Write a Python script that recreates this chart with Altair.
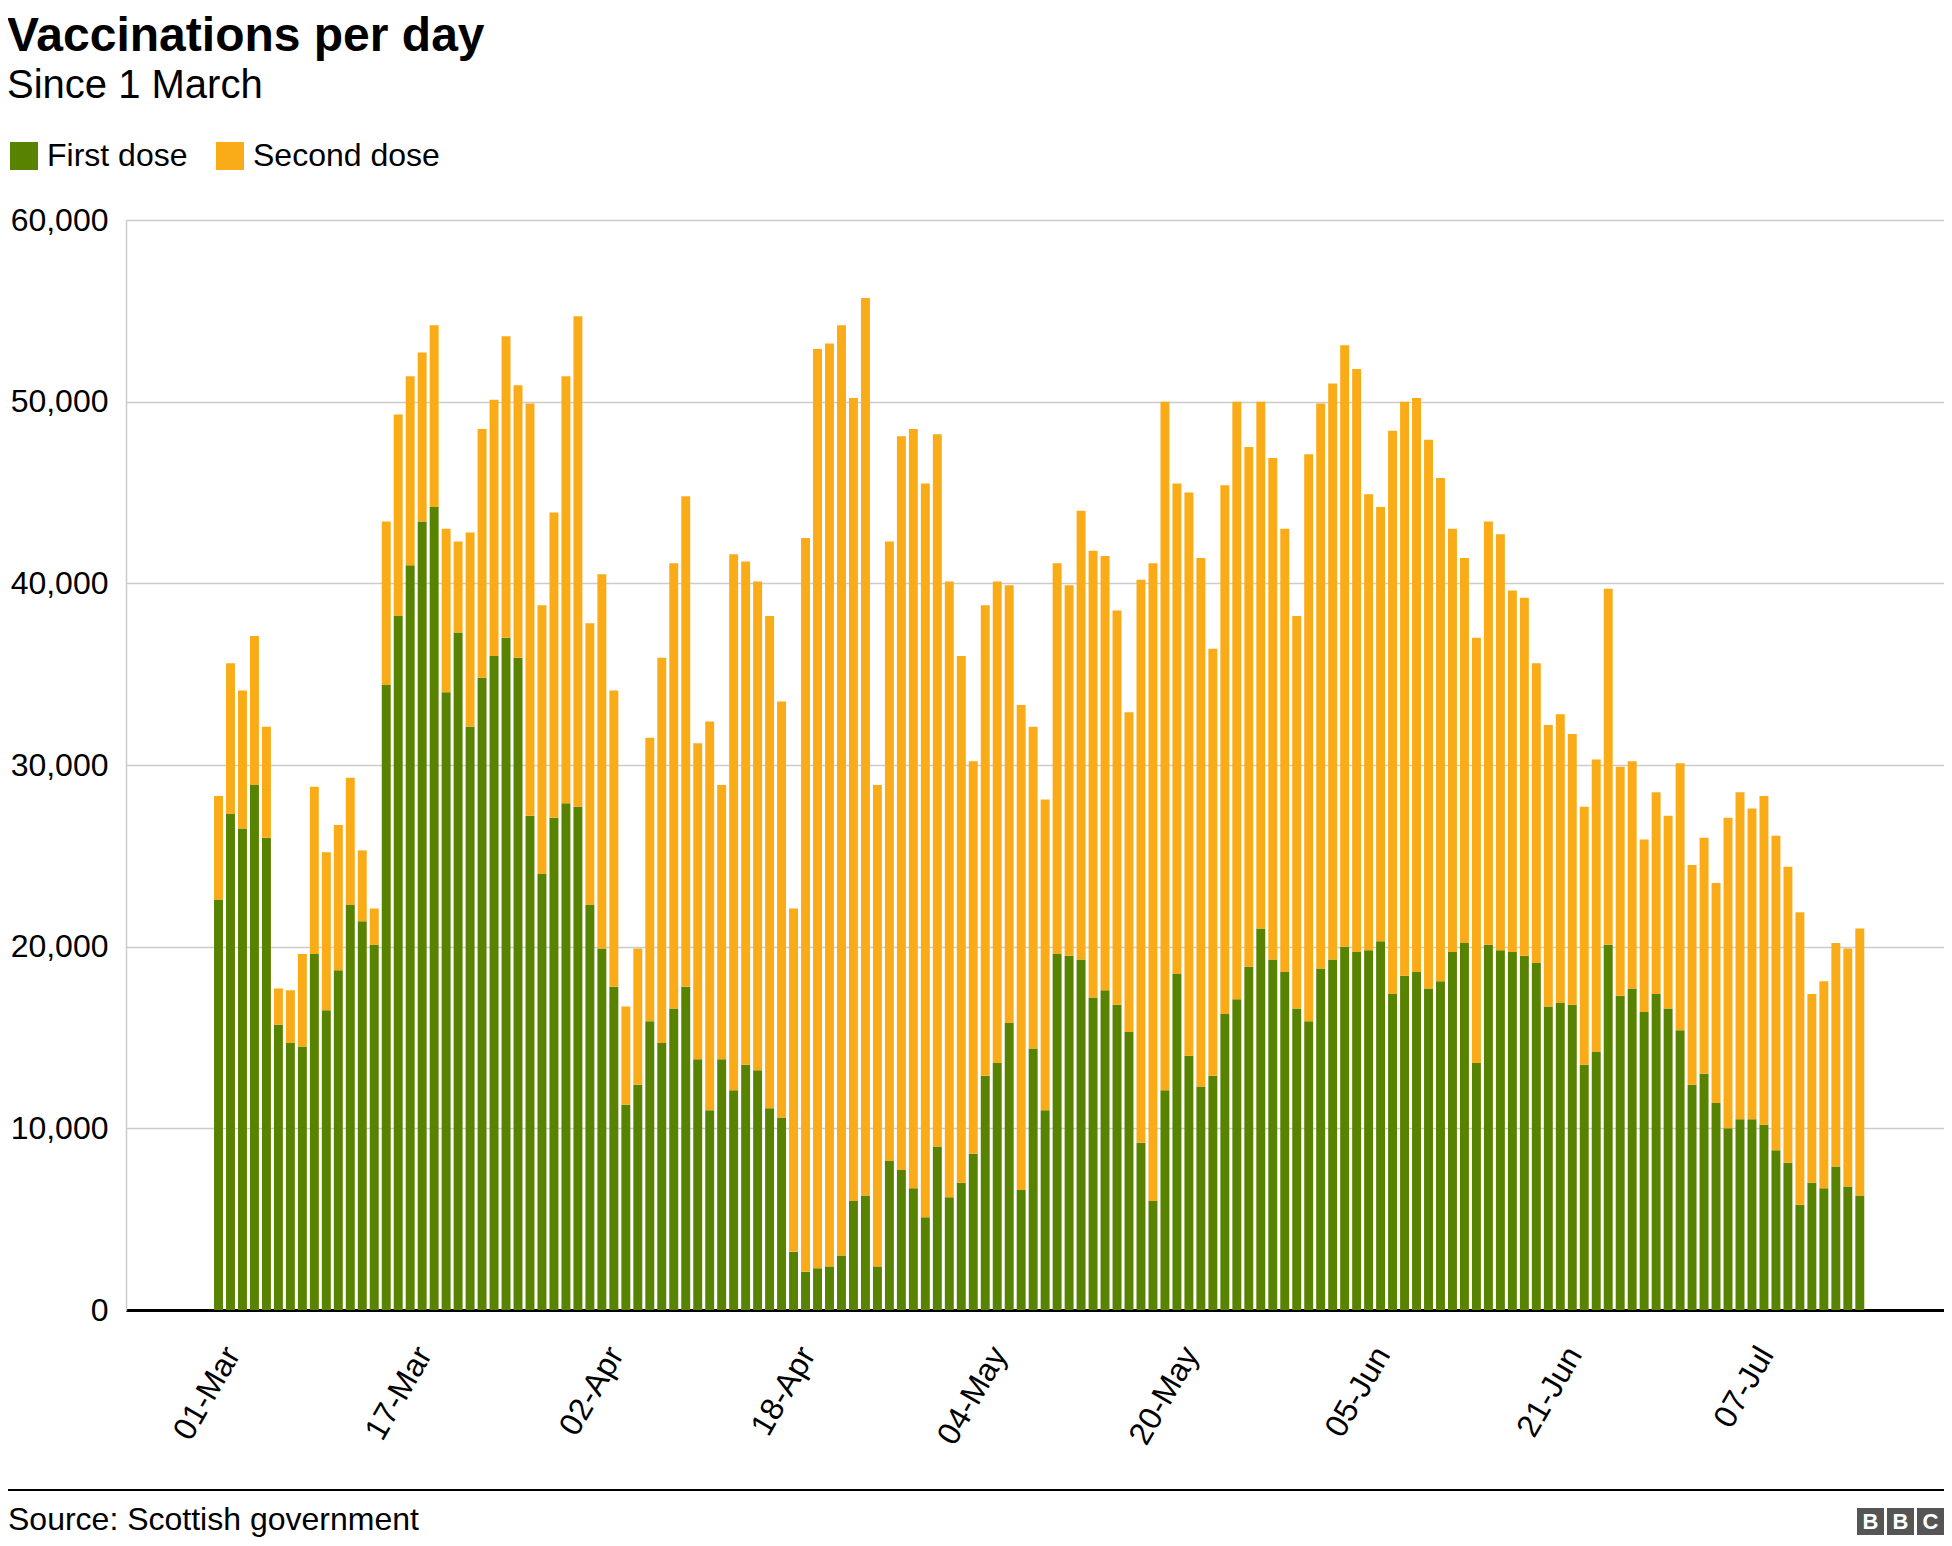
import altair as alt
import pandas as pd

# ---------------- data ----------------
start_date = "2021-03-01"
n_days = 138

first_dose = [
    22600, 27300, 26500, 28900, 26000, 15700, 14700, 14500, 19600, 16500, 18700, 22300, 21400, 20100, 34400, 38200, 41000, 43400,
    44200, 34000, 37300, 32100, 34800, 36000, 37000, 35900, 27200, 24000, 27100, 27900, 27700, 22300, 19900, 17800, 11300, 12400,
    15900, 14700, 16600, 17800, 13800, 11000, 13800, 12100, 13500, 13200, 11100, 10600, 3200, 2100, 2300, 2400, 3000, 6000, 6300,
    2400, 8200, 7700, 6700, 5100, 9000, 6200, 7000, 8600, 12900, 13600, 15800, 6600, 14400, 11000, 19600, 19500, 19300,
    17200, 17600, 16800, 15300, 9200, 6000, 12100, 18500, 14000, 12300, 12900, 16300, 17100, 18900, 21000, 19300, 18600, 16600,
    15900, 18800, 19300, 20000, 19700, 19800, 20300, 17400, 18400, 18600, 17700, 18100, 19700, 20200, 13600, 20100, 19800, 19700, 19500,
    19100, 16700, 16900, 16800, 13500, 14200, 20100, 17300, 17700, 16400, 17400, 16600, 15400, 12400, 13000, 11400, 10000, 10500,
    10500, 10200, 8800, 8100, 5800, 7000, 6700, 7900, 6800, 6300,
]

total_doses = [
    28300, 35600, 34100, 37100, 32100, 17700, 17600, 19600, 28800, 25200, 26700, 29300, 25300, 22100, 43400, 49300, 51400, 52700,
    54200, 43000, 42300, 42800, 48500, 50100, 53600, 50900, 49900, 38800, 43900, 51400, 54700, 37800, 40500, 34100, 16700, 19900,
    31500, 35900, 41100, 44800, 31200, 32400, 28900, 41600, 41200, 40100, 38200, 33500, 22100, 42500, 52900, 53200, 54200, 50200, 55700,
    28900, 42300, 48100, 48500, 45500, 48200, 40100, 36000, 30200, 38800, 40100, 39900, 33300, 32100, 28100, 41100, 39900, 44000,
    41800, 41500, 38500, 32900, 40200, 41100, 50000, 45500, 45000, 41400, 36400, 45400, 50000, 47500, 50000, 46900, 43000, 38200,
    47100, 49900, 51000, 53100, 51800, 44900, 44200, 48400, 50000, 50200, 47900, 45800, 43000, 41400, 37000, 43400, 42700, 39600, 39200,
    35600, 32200, 32800, 31700, 27700, 30300, 39700, 29900, 30200, 25900, 28500, 27200, 30100, 24500, 26000, 23500, 27100, 28500,
    27600, 28300, 26100, 24400, 21900, 17400, 18100, 20200, 19900, 21000,
]

series_names = ["First dose", "Second dose"]
series_colors = ["#588300", "#FAAB18"]
y_ticks = [0, 10000, 20000, 30000, 40000, 50000, 60000]
x_tick_days = [(3, 1), (3, 17), (4, 2), (4, 18), (5, 4), (5, 20), (6, 5), (6, 21), (7, 7)]

# ---------------- table ----------------
dates = pd.date_range(start_date, periods=n_days, freq="D").strftime("%Y-%m-%d")
second_dose = [t - f for t, f in zip(total_doses, first_dose)]
wide = pd.DataFrame({"date": dates, "First dose": first_dose, "Second dose": second_dose})
df = wide.melt(id_vars="date", var_name="dose", value_name="value")
df["order"] = df["dose"].map({n: i for i, n in enumerate(series_names)})

FONT = "Liberation Sans"
W, H = 1818, 1090
DAY = 86400000
t0 = int(pd.Timestamp(start_date, tz="UTC").value // 1_000_000)
dom = [t0 - int(7.18 * DAY), t0 + int(144.57 * DAY)]

bars = alt.Chart(df).mark_bar(width=alt.RelativeBandSize(0.83)).encode(
    x=alt.X(
        "date:T",
        timeUnit="utcyearmonthdate",
        scale=alt.Scale(type="utc", domain=dom),
        axis=alt.Axis(
            title=None,
            values=[alt.DateTime(year=2021, month=m, date=d, hours=12, utc=True) for m, d in x_tick_days],
            labelExpr="utcFormat(datum.value, '%d-%b')",
            labelAngle=-60,
            labelAlign="right",
            labelBaseline="middle",
            labelFont=FONT,
            labelFontSize=32,
            labelColor="#000000",
            labelPadding=39,
            labelOffset=14,
            labelOverlap=False,
            ticks=False,
            grid=False,
            domainColor="#000000",
            domainWidth=3,
        ),
    ),
    y=alt.Y(
        "value:Q",
        stack="zero",
        scale=alt.Scale(domain=[0, 60000], nice=False),
        axis=alt.Axis(
            title=None,
            values=y_ticks,
            format=",d",
            labelFont=FONT,
            labelFontSize=32,
            labelColor="#000000",
            labelPadding=18,
            ticks=False,
            grid=True,
            gridColor="#cccccc",
            gridWidth=1.5,
            domainColor="#cccccc",
            domainWidth=1.5,
        ),
    ),
    color=alt.Color(
        "dose:N",
        scale=alt.Scale(domain=series_names, range=series_colors),
        legend=alt.Legend(
            title=None,
            orient="none",
            legendX=-118,
            legendY=-80,
            direction="horizontal",
            symbolType="square",
            symbolSize=784,
            symbolStrokeWidth=0,
            symbolOpacity=1,
            labelFont=FONT,
            labelFontSize=32,
            labelColor="#000000",
            labelOffset=7,
            labelLimit=0,
            columnPadding=26,
            padding=0,
        ),
    ),
    order=alt.Order("order:Q"),
)

one = alt.Data(values=[{"k": 1}])

footer_rule = alt.Chart(one).mark_rule(color="#000000", strokeWidth=2).encode(
    x=alt.value(-118), x2=alt.value(W), y=alt.value(1270)
)
source = alt.Chart(one).mark_text(
    text="Source: Scottish government", font=FONT, fontSize=32, color="#000000",
    align="left", baseline="middle",
).encode(x=alt.value(-118), y=alt.value(1300))

logo_layers = []
for i, letter in enumerate(["B", "B", "C"]):
    x0 = 1731 + 30 * i
    logo_layers.append(
        alt.Chart(one).mark_rect(color="#555555").encode(
            x=alt.value(x0), x2=alt.value(x0 + 27), y=alt.value(1288), y2=alt.value(1315)
        )
    )
    logo_layers.append(
        alt.Chart(one).mark_text(
            text=letter, font=FONT, fontSize=22, fontWeight="bold", color="#ffffff",
            align="center", baseline="middle",
        ).encode(x=alt.value(x0 + 13.5), y=alt.value(1302))
    )

chart = alt.layer(bars, footer_rule, source, *logo_layers).properties(
    width=W,
    height=H,
    autosize=alt.AutoSizeParams(type="none"),
    padding={"left": 118, "top": 212, "right": 0, "bottom": 228},
    title=alt.TitleParams(
        text="Vaccinations per day",
        subtitle="Since 1 March",
        anchor="start",
        frame="bounds",
        font=FONT,
        fontSize=48,
        fontWeight="bold",
        color="#000000",
        subtitleFont=FONT,
        subtitleFontSize=40,
        subtitleColor="#000000",
        subtitlePadding=5,
        offset=34,
    ),
).configure_view(stroke=None)

chart.save("out.html", embed_options={"renderer": "svg", "actions": False})
